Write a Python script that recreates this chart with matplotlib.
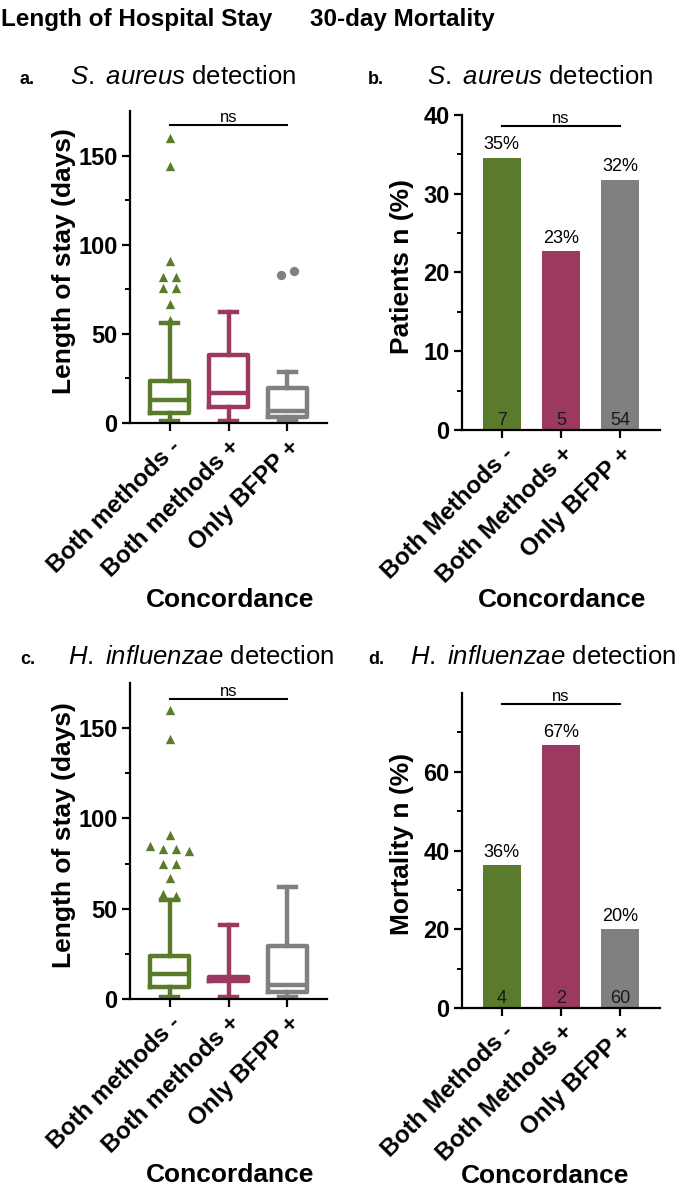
import matplotlib
matplotlib.use('Agg')
import matplotlib.pyplot as plt

plt.rcParams['font.family'] = ['Liberation Sans', 'DejaVu Sans']
plt.rcParams['mathtext.fontset'] = 'custom'
plt.rcParams['mathtext.it'] = 'Liberation Sans:italic'
plt.rcParams['mathtext.rm'] = 'Liberation Sans'

green = '#5a7a2c'
magenta = '#9d3960'
grey = '#808080'
colors = [green, magenta, grey]

box_labels = ['Both methods -', 'Both methods +', 'Only BFPP +']
bar_labels = ['Both Methods -', 'Both Methods +', 'Only BFPP +']

# length of stay, S. aureus detection
sa_whislo = [1, 1, 1]
sa_q1 = [5.6, 9, 3.5]
sa_med = [13, 17, 7]
sa_q3 = [23.6, 38, 19.5]
sa_whishi = [56, 62, 28.5]
sa_fliers = [[160, 144, 91, 82, 82, 76, 76, 67, 58], [], [83, 85]]

# length of stay, H. influenzae detection
hi_whislo = [1, 1, 1]
hi_q1 = [6.7, 10, 4]
hi_med = [14, 11, 8]
hi_q3 = [24, 12, 29.5]
hi_whishi = [55, 41, 62]
hi_fliers = [[160, 144, 91, 85, 83, 83, 82, 75, 75, 67, 58, 57], [], []]

# 30-day mortality
sa_mort = [34.6, 22.7, 31.8]
sa_n = [7, 5, 54]
hi_mort = [36.4, 66.7, 20.0]
hi_n = [4, 2, 60]

flier_markers = ['^', 'o', 'o']

W, H = 680, 1189
fig = plt.figure(figsize=(W / 100, H / 100), dpi=100)


def px_axes(left, right, bottom, top):
    return fig.add_axes([left / W, 1 - bottom / H, (right - left) / W, (bottom - top) / H])


def spread(vals, step=0.2, tol=3):
    # put close values side by side (in given order), like a prism plot does
    groups = []
    for v in vals:
        if groups and abs(groups[-1][-1] - v) <= tol:
            groups[-1].append(v)
        else:
            groups.append([v])
    xs, ys = [], []
    for g in groups:
        for i, v in enumerate(g):
            xs.append((i - (len(g) - 1) / 2) * step)
            ys.append(v)
    return xs, ys


def style(ax, labels, yticks, yminor, ylabel, ylab_x, xlab_x, xlab_y):
    for s in ['top', 'right']:
        ax.spines[s].set_visible(False)
    for s in ['left', 'bottom']:
        ax.spines[s].set_linewidth(1.6)
    ax.set_xlim(0.33, 3.67)
    ax.set_xticks([1, 2, 3])
    ax.set_xticklabels(labels, rotation=45, ha='right', rotation_mode='anchor',
                       fontsize=17.5, fontweight='bold')
    ax.set_yticks(yticks)
    ax.set_yticks(yminor, minor=True)
    ax.set_yticklabels([str(t) for t in yticks], fontsize=17, fontweight='bold')
    ax.tick_params(axis='both', which='major', length=6, width=1.6, pad=3)
    ax.tick_params(axis='y', which='minor', length=3.5, width=1.4)
    ax.set_ylabel(ylabel, fontsize=19, fontweight='bold')
    ax.yaxis.set_label_coords(ylab_x, 0.52)
    ax.set_xlabel('Concordance', fontsize=19, fontweight='bold')
    ax.xaxis.set_label_coords(xlab_x, xlab_y)


def ns_bar(ax, y):
    ax.plot([1, 3], [y, y], color='black', lw=1.5, clip_on=False)
    ax.text(2, y, 'ns', ha='center', va='bottom', fontsize=12)


def box_panel(ax, whislo, q1, med, q3, whishi, fliers, ns_y):
    stats = []
    for i in range(3):
        stats.append({'whislo': whislo[i], 'q1': q1[i], 'med': med[i],
                      'q3': q3[i], 'whishi': whishi[i], 'fliers': []})
    art = ax.bxp(stats, positions=[1, 2, 3], widths=0.65, capwidths=0.28,
                 showfliers=False)
    for i, c in enumerate(colors):
        for a in [art['boxes'][i], art['medians'][i]]:
            a.set_color(c)
            a.set_linewidth(3.2)
            a.set_solid_joinstyle('round')
        for a in art['whiskers'][2 * i:2 * i + 2] + art['caps'][2 * i:2 * i + 2]:
            a.set_color(c)
            a.set_linewidth(3.2)
        if fliers[i]:
            xs, ys = spread(fliers[i], step=0.22)
            ax.scatter([i + 1 + x for x in xs], ys, marker=flier_markers[i], s=45,
                       color=c, linewidths=0, zorder=3, clip_on=False)
    ax.set_ylim(0, 175)
    ns_bar(ax, ns_y)


def bar_panel(ax, vals, counts, ymax, ns_y):
    bars = ax.bar([1, 2, 3], vals, width=0.64, color=colors)
    for b, v, n in zip(bars, vals, counts):
        x = b.get_x() + b.get_width() / 2
        ax.annotate(f'{v:.0f}%', (x, v), xytext=(0, 3), textcoords='offset points',
                    ha='center', va='bottom', fontsize=13)
        ax.annotate(str(n), (x, 0), xytext=(0, 1), textcoords='offset points',
                    ha='center', va='bottom', fontsize=13, color='#1a1a1a')
    ax.set_ylim(0, ymax)
    ns_bar(ax, ns_y)


# panel a
ax_a = px_axes(130, 327, 423, 111)
box_panel(ax_a, sa_whislo, sa_q1, sa_med, sa_q3, sa_whishi, sa_fliers, 167)
style(ax_a, box_labels, [0, 50, 100, 150], [25, 75, 125], 'Length of stay (days)',
      -0.275, 0.51, -0.53)

# panel b
ax_b = px_axes(462, 660, 430, 115)
bar_panel(ax_b, sa_mort, sa_n, 40, 38.6)
style(ax_b, bar_labels, [0, 10, 20, 30, 40], [5, 15, 25, 35], 'Patients n (%)',
      -0.24, 0.505, -0.50)

# panel c
ax_c = px_axes(130, 327, 999, 683)
box_panel(ax_c, hi_whislo, hi_q1, hi_med, hi_q3, hi_whishi, hi_fliers, 166)
style(ax_c, box_labels, [0, 50, 100, 150], [25, 75, 125], 'Length of stay (days)',
      -0.275, 0.51, -0.52)

# panel d
ax_d = px_axes(462, 660, 1008, 693)
bar_panel(ax_d, hi_mort, hi_n, 80, 77.3)
style(ax_d, bar_labels, [0, 20, 40, 60], [10, 30, 50, 70], 'Mortality n (%)',
      -0.24, 0.42, -0.495)

# headers
fig.text(1 / W, 1 - 26 / H, 'Length of Hospital Stay', fontsize=17.5, fontweight='bold',
         va='baseline')
fig.text(310 / W, 1 - 26 / H, '30-day Mortality', fontsize=17.5, fontweight='bold',
         va='baseline')

# panel titles
titles = [('a.', 20, 70, 84, r'$\mathit{S.\ aureus}$ detection'),
          ('b.', 368, 427, 84, r'$\mathit{S.\ aureus}$ detection'),
          ('c.', 20, 68, 664, r'$\mathit{H.\ influenzae}$ detection'),
          ('d.', 368, 410, 664, r'$\mathit{H.\ influenzae}$ detection')]
for letter, lx, tx, y, t in titles:
    fig.text(lx / W, 1 - y / H, letter, fontsize=13, fontweight='bold', va='baseline')
    fig.text(tx / W, 1 - y / H, t, fontsize=18.5, va='baseline')

fig.savefig('out.png', dpi=100)
